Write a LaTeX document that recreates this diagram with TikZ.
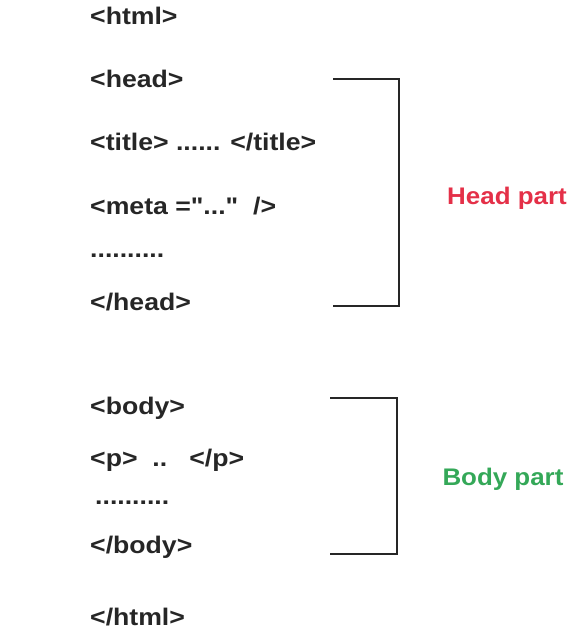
\documentclass[tikz,border=0pt]{standalone}
\usepackage{fontspec}
\setmainfont{Liberation Sans}[BoldFont={Liberation Sans Bold},Ligatures=NoCommon]
\newfontfamily\codefont{Liberation Sans Bold}[FakeStretch=1.11]
\newfontfamily\partfont{Liberation Sans Bold}[FakeStretch=1.08]
\begin{document}
\begin{tikzpicture}[x=1pt,y=-1pt,
  code/.style={anchor=west,inner sep=0pt,font=\codefont\fontsize{24}{27}\selectfont,text=black!85},
  part/.style={inner sep=0pt,font=\partfont\fontsize{24}{27}\selectfont},
  brk/.style={line width=1.6pt,draw=black!85}]
\useasboundingbox (0,0) rectangle (586,630);
\node[code] (html) at (90,16) {<html>};
\node[code] (head) at (90,79) {<head>};
\node[code] (title) at (90,142) {<title> ...... </title>};
\node[code] (meta) at (90,206) {<meta =\char34...\char34\ \ />};
\node[code] (hdots) at (90,256) {..........};
\node[code] (ehead) at (90,302) {</head>};
\node[code] (body) at (90,408) {<body>};
\node[code] (p) at (90,460) {<p>\ \ ..\ \ \ </p>};
\node[code] (bdots) at (95,503) {..........};
\node[code] (ebody) at (90,547) {</body>};
\node[code] (ehtml) at (90,617) {</html>};
\coordinate (h1) at (333,79);
\coordinate (h2) at (399,79);
\coordinate (h3) at (399,306);
\coordinate (h4) at (333,306);
\draw[brk] (h1) -- (h2) -- (h3) -- (h4);
\coordinate (b1) at (330,398);
\coordinate (b2) at (397,398);
\coordinate (b3) at (397,554);
\coordinate (b4) at (330,554);
\draw[brk] (b1) -- (b2) -- (b3) -- (b4);
\node[part,text={rgb,255:red,228;green,48;blue,72}] (hpart) at (507,198) {Head part};
\node[part,text={rgb,255:red,52;green,168;blue,88}] (bpart) at (503,479) {Body part};
\end{tikzpicture}
\end{document}
